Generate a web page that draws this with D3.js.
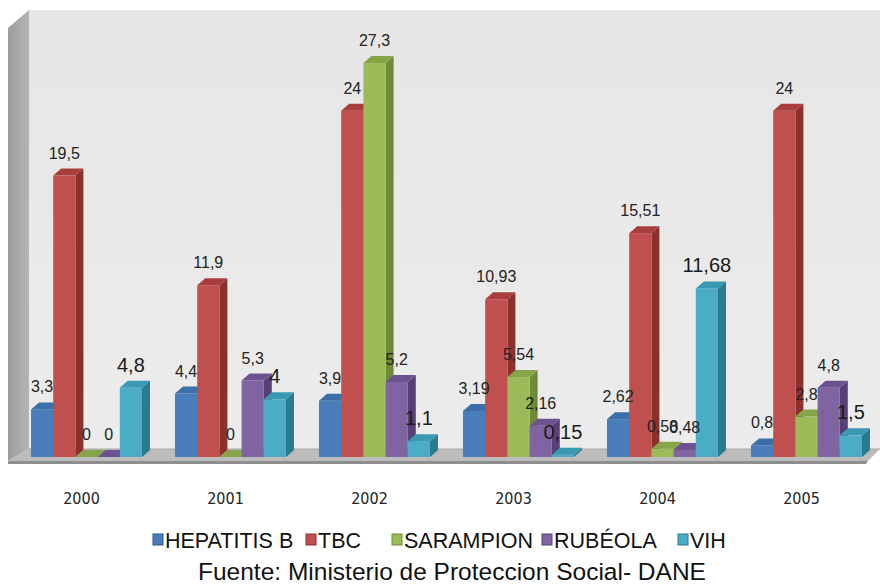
<!DOCTYPE html>
<html><head><meta charset="utf-8">
<script src="https://cdn.jsdelivr.net/npm/d3@7"></script>
<style>body{margin:0;background:#fff}svg{display:block}</style>
</head><body>
<svg id="c" width="880" height="585"></svg>
<script>
const years = ["2000","2001","2002","2003","2004","2005"];
const seriesNames = ["HEPATITIS B","TBC","SARAMPION","RUBÉOLA","VIH"];
const hepatitisB = [3.3, 4.4, 3.9, 3.19, 2.62, 0.8];
const tbc        = [19.5, 11.9, 24, 10.93, 15.51, 24];
const sarampion  = [0, 0, 27.3, 5.54, 0.58, 2.8];
const rubeola    = [0, 5.3, 5.2, 2.16, 0.48, 4.8];
const vih        = [4.8, 4, 1.1, 0.15, 11.68, 1.5];
const seriesValues = [hepatitisB, tbc, sarampion, rubeola, vih];
const sourceText = "Fuente: Ministerio de Proteccion Social- DANE";

const colors = [
  {front:"#4a7ebb", side:"#2d5a8e", top:"#3c6ea8"},
  {front:"#c0504d", side:"#8a302e", top:"#a83e3b"},
  {front:"#9bbb59", side:"#6e8a37", top:"#86a547"},
  {front:"#8064a2", side:"#584077", top:"#6c5290"},
  {front:"#4bacc6", side:"#2a7b91", top:"#3b98b2"}
];
const fmt = v => String(v).replace(".", ",");

const svg = d3.select("#c");
const DX = 8, DY = 7;
const base = 457;
const y = d3.scaleLinear().domain([0, 30]).range([base, base - 30*14.43]);
const x0 = d3.scaleBand().domain(years).range([31, 862]).paddingInner(33/144).paddingOuter(0);
const x1 = d3.scaleBand().domain(seriesNames).range([0, x0.bandwidth()]);

// defs
const defs = svg.append("defs");
const lg = defs.append("linearGradient").attr("id","lw").attr("x1",0).attr("x2",1).attr("y1",0).attr("y2",0);
lg.append("stop").attr("offset","0").attr("stop-color","#9c9c9c");
lg.append("stop").attr("offset","1").attr("stop-color","#b4b4b4");
const bw = defs.append("linearGradient").attr("id","bw").attr("x1",0).attr("x2",0).attr("y1",0).attr("y2",1);
bw.append("stop").attr("offset","0").attr("stop-color","#e6e6e6");
bw.append("stop").attr("offset","1").attr("stop-color","#ececec");

// walls & floor
const wallTop = 10, wallLeft = 29, wallRight = 880, floorBack = 449, floorFront = 461;
svg.append("rect").attr("x", wallLeft).attr("y", wallTop).attr("width", wallRight-wallLeft).attr("height", floorBack-wallTop).attr("fill","url(#bw)");
svg.append("polygon").attr("points", `8,28 ${wallLeft},${wallTop} ${wallLeft},${floorBack} 8,${floorFront}`).attr("fill","url(#lw)");
svg.append("polygon").attr("points", `8,${floorFront} ${wallLeft},${floorBack} ${wallRight},${floorBack} ${wallRight-12},${floorFront}`).attr("fill","#bcbcbc");
svg.append("polygon").attr("points", `8,${floorFront} ${wallRight-12},${floorFront} ${wallRight-14},${floorFront+3} 8,${floorFront+3}`).attr("fill","#8e8e8e");
svg.append("line").attr("x1",wallLeft).attr("x2",wallRight).attr("y1",floorBack).attr("y2",floorBack).attr("stroke","#a8a8a8").attr("stroke-width",1);

// bars
const gBars = svg.append("g");
years.forEach((yr, i) => {
  seriesNames.forEach((s, j) => {
    const v = seriesValues[j][i];
    const xl = x0(yr) + x1(s), w = x1.bandwidth(), yt = y(v), c = colors[j];
    const g = gBars.append("g");
    if (v > 0) {
      g.append("polygon").attr("points", `${xl+w},${yt} ${xl+w+DX},${yt-DY} ${xl+w+DX},${base-DY} ${xl+w},${base}`).attr("fill", c.side);
      g.append("rect").attr("x", xl).attr("y", yt).attr("width", w).attr("height", base-yt).attr("fill", c.front);
    }
    g.append("polygon").attr("points", `${xl},${yt} ${xl+DX},${yt-DY} ${xl+w+DX},${yt-DY} ${xl+w},${yt}`).attr("fill", c.top);
  });
});

// value labels
const gLab = svg.append("g").attr("font-family","'Liberation Sans', Arial, sans-serif").attr("text-anchor","middle");
years.forEach((yr, i) => {
  seriesNames.forEach((s, j) => {
    const v = seriesValues[j][i];
    const cx = x0(yr) + x1(s) + x1.bandwidth()/2;
    const big = j === 4;
    gLab.append("text").attr("x", cx).attr("y", y(v) - DY - (big ? 9 : 10))
      .attr("font-size", big ? 20 : 16).attr("fill", big ? "#1a1a1a" : "#222")
      .text(fmt(v));
  });
});

// category axis labels
svg.append("g").selectAll("text").data(years).join("text")
  .attr("x", d => x0(d) + x0.bandwidth()/2 - 5).attr("y", 504)
  .attr("text-anchor","middle").attr("font-family","'DejaVu Sans Condensed', 'Liberation Sans', sans-serif")
  .attr("font-size",16)
  .attr("fill","#222").text(d => d);

// legend
const legX = [153, 306, 392, 542, 678];
const gLeg = svg.append("g");
seriesNames.forEach((s, j) => {
  gLeg.append("rect").attr("x", legX[j]).attr("y", 534).attr("width", 10).attr("height", 11)
    .attr("fill", colors[j].front).attr("stroke", colors[j].side).attr("stroke-width", 1);
  gLeg.append("text").attr("x", legX[j] + 12).attr("y", 548)
    .attr("font-family","'Liberation Sans', Arial, sans-serif").attr("font-size", 21.5).attr("fill","#111").text(s);
});

svg.append("text").attr("x", 452).attr("y", 580).attr("text-anchor","middle")
  .attr("font-family","'Liberation Sans', Arial, sans-serif").attr("font-size", 24.5).attr("fill","#111")
  .text(sourceText);
</script>
</body></html>
